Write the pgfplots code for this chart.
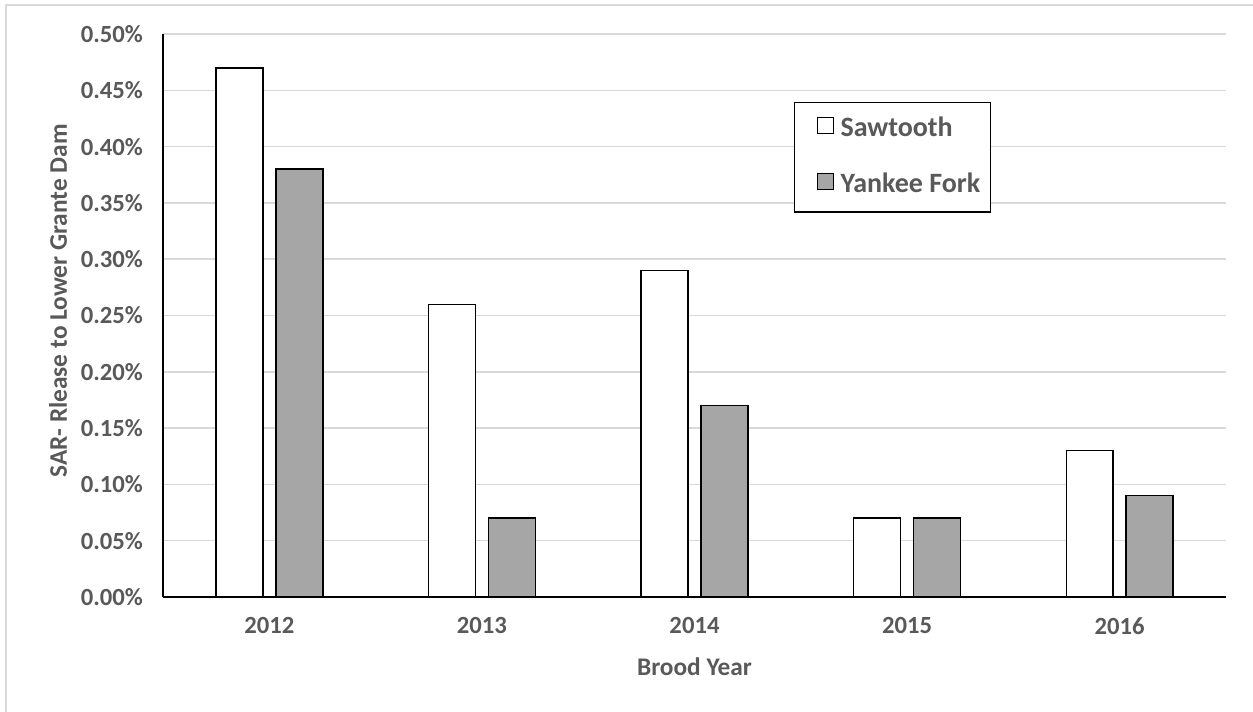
\documentclass[border=0pt]{standalone}
\usepackage{pgfplots}
\pgfplotsset{compat=1.18}
\usepackage{fontspec}
\setmainfont{Carlito}
\definecolor{txt}{HTML}{595959}
\definecolor{gridc}{HTML}{D9D9D9}
\definecolor{barg}{HTML}{A6A6A6}
\begin{document}
\begin{tikzpicture}
\useasboundingbox (-122.25pt,-85.5pt) rectangle (817.5pt,447.75pt);
\draw[gridc, line width=1pt] (-117.75pt,-86pt) -- (-117.75pt,444pt) -- (818pt,444pt);
\begin{axis}[
  at={(0pt,0pt)}, anchor=south west,
  width=797.25pt, height=422.25pt, scale only axis,
  ybar, bar width=0.221,
  xmin=-0.5, xmax=4.5, ymin=0, ymax=0.5,
  xtick={0,1,2,3,4}, xticklabels={2012,2013,2014,2015,2016},
  ytick={0,0.05,...,0.5},
  yticklabels={0.00\%,0.05\%,0.10\%,0.15\%,0.20\%,0.25\%,0.30\%,0.35\%,0.40\%,0.45\%,0.50\%},
  major tick length=0pt,
  axis x line=bottom, axis y line=left,
  x axis line style={-, line width=1.5pt, black},
  y axis line style={-, line width=1.1pt, black},
  ymajorgrids, grid style={gridc, line width=1.1pt},
  tick label style={font=\bfseries\fontsize{18.5}{21}\selectfont, text=txt},
  yticklabel style={xshift=-11.5pt},
  xticklabel style={yshift=-12pt},
  /pgf/number format/assume math mode=true,
  xlabel={Brood Year},
  ylabel={SAR- Rlease to Lower Grante Dam},
  label style={font=\bfseries\fontsize{19}{22}\selectfont, text=txt},
  x label style={at={(axis description cs:0.5,-0.124)}, anchor=center},
  y label style={at={(axis description cs:-0.0988,0.526)}, anchor=center},
  legend style={at={(axis description cs:0.5936,0.879)}, anchor=north west,
    draw=black, line width=0.9pt, inner xsep=8pt, inner ysep=10pt,
    row sep=22pt, column sep=5pt,
    font=\bfseries\fontsize{21}{25}\selectfont, text=txt,
    nodes={inner sep=0pt, text height=15pt, text depth=5pt}},
  legend cell align=left,
  legend image code/.code={\path (0pt,0pt); \draw[#1, line width=0.9pt] (8.5pt,-3pt) rectangle (20.5pt,9pt);},
]
\addplot[draw=black, fill=white, line width=1.1pt, bar shift=-0.141] coordinates {(0,0.47) (1,0.26) (2,0.29) (3,0.07) (4,0.13)};
\addplot[draw=black, fill=barg, line width=1.1pt, bar shift=0.141] coordinates {(0,0.38) (1,0.07) (2,0.17) (3,0.07) (4,0.09)};
\legend{Sawtooth, Yankee Fork}
\end{axis}
\end{tikzpicture}
\end{document}
